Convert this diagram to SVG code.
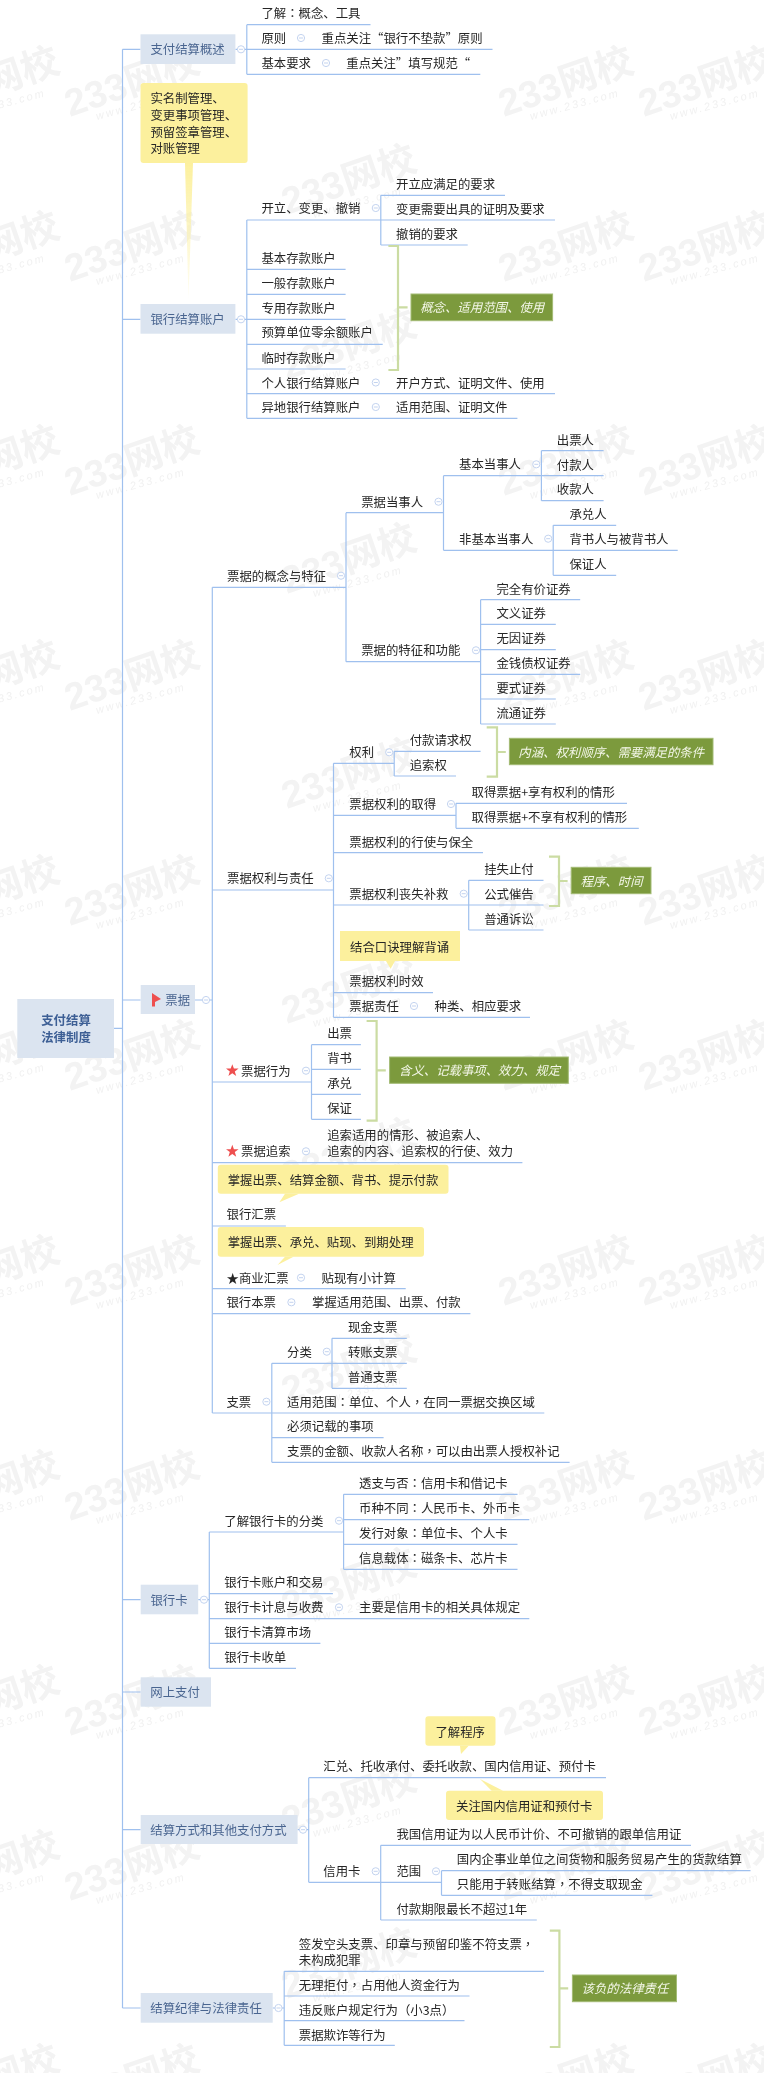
<svg xmlns="http://www.w3.org/2000/svg" xmlns:xlink="http://www.w3.org/1999/xlink" width="764" height="2073" viewBox="0 0 764 2073">
<style>
text{font-family:"Noto Sans CJK SC","Noto Sans",sans-serif;font-size:12.4px;fill:#262626;dominant-baseline:central}
.p{font-family:"Noto Sans CJK TC",sans-serif}
.b{fill:#4a6590}
.r{fill:#3d5f95;font-weight:700}
.box{fill:#dbe4f0}
.y{fill:#fcf09d}
.g{fill:#7b9a3d;stroke:#a3bb74;stroke-width:1}
.gt{fill:#f4f7e8;font-style:italic}
.c{fill:none;stroke:#9fc0ee;stroke-width:1.2}
.br{fill:none;stroke:#cbdca3;stroke-width:2.2}
.ic{fill:#fff;stroke:#c3d3ef;stroke-width:1}
.w1{font-family:"Liberation Sans",sans-serif;font-size:38px;font-weight:700;fill:#f3f3f3}
.w2{font-family:"Noto Sans CJK SC",sans-serif;font-size:38px;font-weight:700;fill:#f3f3f3}
.w3{font-family:"Liberation Sans",sans-serif;font-size:11px;font-style:italic;fill:#f1f1f1;letter-spacing:2.2px}
</style>
<defs>
<filter id="soft" x="0" y="0" width="100%" height="100%"><feGaussianBlur stdDeviation="0.35"/></filter>
<linearGradient id="fade" gradientUnits="userSpaceOnUse" x1="0" y1="163" x2="0" y2="300"><stop offset="0" stop-color="#fcf09d"/><stop offset="1" stop-color="#fcf09d" stop-opacity="0.1"/></linearGradient>
<g id="wm"><text class="w1" x="2" y="61" transform="rotate(-19 2 61)" style="dominant-baseline:auto"><tspan class="w1">233</tspan><tspan class="w2">网校</tspan></text><text class="w3" x="29" y="64" transform="rotate(-15 29 64)" style="dominant-baseline:auto">www.233.com</text></g>
<g id="ci"><circle class="ic" r="3.6"/><path d="M-2 0H2" stroke="#c3d3ef" stroke-width="1"/></g>
<path id="star" fill="#ee4f4f" d="M0-6.5 1.6-2.1H6.3L2.5.8 3.9 5.4 0 2.6-3.9 5.4-2.5.8-6.3-2.1H-1.6Z"/>
</defs>
<rect width="764" height="2073" fill="#fff"/>
<g id="diagram" filter="url(#soft)">
<g id="watermarks">
<use href="#wm" x="-72" y="56"/><use href="#wm" x="68" y="56"/><use href="#wm" x="502" y="56"/><use href="#wm" x="642" y="56"/>
<use href="#wm" x="-72" y="221"/><use href="#wm" x="68" y="221"/><use href="#wm" x="502" y="221"/><use href="#wm" x="642" y="221"/>
<use href="#wm" x="-72" y="435"/><use href="#wm" x="68" y="435"/><use href="#wm" x="502" y="435"/><use href="#wm" x="642" y="435"/>
<use href="#wm" x="-72" y="650"/><use href="#wm" x="68" y="650"/><use href="#wm" x="502" y="650"/><use href="#wm" x="642" y="650"/>
<use href="#wm" x="-72" y="865"/><use href="#wm" x="68" y="865"/><use href="#wm" x="502" y="865"/><use href="#wm" x="642" y="865"/>
<use href="#wm" x="-72" y="1030"/><use href="#wm" x="68" y="1030"/><use href="#wm" x="502" y="1030"/><use href="#wm" x="642" y="1030"/>
<use href="#wm" x="-72" y="1245"/><use href="#wm" x="68" y="1245"/><use href="#wm" x="502" y="1245"/><use href="#wm" x="642" y="1245"/>
<use href="#wm" x="-72" y="1460"/><use href="#wm" x="68" y="1460"/><use href="#wm" x="502" y="1460"/><use href="#wm" x="642" y="1460"/>
<use href="#wm" x="-72" y="1675"/><use href="#wm" x="68" y="1675"/><use href="#wm" x="502" y="1675"/><use href="#wm" x="642" y="1675"/>
<use href="#wm" x="-72" y="1840"/><use href="#wm" x="68" y="1840"/><use href="#wm" x="502" y="1840"/><use href="#wm" x="642" y="1840"/>
<use href="#wm" x="-72" y="2054"/><use href="#wm" x="68" y="2054"/><use href="#wm" x="502" y="2054"/><use href="#wm" x="642" y="2054"/>
<use href="#wm" x="285" y="154"/><use href="#wm" x="285" y="319"/><use href="#wm" x="285" y="533"/><use href="#wm" x="285" y="748"/><use href="#wm" x="285" y="963"/><use href="#wm" x="285" y="1128"/><use href="#wm" x="285" y="1343"/><use href="#wm" x="285" y="1558"/><use href="#wm" x="285" y="1773"/><use href="#wm" x="285" y="1938"/>
</g>
<g id="connectors">
<path class="c" d="M122.5 49.3V2008M114 1028.3H122.5M122.5 49.3H140.5M122.5 319.3H140.5M122.5 1000H140.7M122.5 1599.7H140.7M122.5 1692H140.7M122.5 1829.7H140.7M122.5 2008H140.7"/>
<path class="c" d="M235.4 49.3H246.8M246.8 24.7V74.3M246.8 24.7H370.5M246.8 49.3H492.5M246.8 74.3H480.3"/>
<path class="c" d="M235.4 319.3H246.8M246.8 220V418.3M246.8 220H380.8M380.8 195.3V245M380.8 195.3H505M380.8 220H555M380.8 245H467.7M246.8 269.3H345.6M246.8 294.3H345.6M246.8 319.3H345.6M246.8 344.3H382.7M246.8 369H345.6M246.8 393.7H555M246.8 418.3H517.4"/>
<path class="c" d="M195 1000H212.3M212.3 587.3V1413M212.3 587.3H346M346 512.7V661.7M346 512.7H443.5M443.5 475.7V550.3M443.5 475.7H541.4M541.4 450.7V500.7M541.4 450.7H603.6M541.4 475.7H603.6M541.4 500.7H603.6M443.5 550.3H553.2M553.2 525.3V575.3M553.2 525.3H616.2M553.2 550.3H677.7M553.2 575.3H616.2M346 661.7H480.6M480.6 599.7V724M480.6 599.7H580.2M480.6 624.3H555.8M480.6 649.7H555.8M480.6 674.3H580.2M480.6 699H555.8M480.6 724H555.8"/>
<path class="c" d="M212.3 890H333.5M333.5 763.3V1017.3M333.5 763.3H394.2M394.2 751.3V776M394.2 751.3H480.6M394.2 776H456M333.5 815.3H456M456 803.3V828.3M456 803.3H627M456 828.3H638.8M333.5 852.7H483M333.5 905H468.7M468.7 880.3V930M468.7 880.3H543.5M468.7 905H543.5M468.7 930H543.5M333.5 992.7H433M333.5 1017.3H530"/>
<path class="c" d="M212.3 1082H311.5M311.5 1044.7V1119.3M311.5 1044.7H360.9M311.5 1069.3H360.9M311.5 1094.3H360.9M311.5 1119.3H360.9M212.3 1162.7H522.4M212.3 1226H285.9M212.3 1288.7H405.7M212.3 1313.7H470.4M212.3 1413H271.8M271.8 1363.3V1462.3M271.8 1363.3H332M332 1338.3V1388.3M332 1338.3H406.8M332 1363.3H406.8M332 1388.3H406.8M271.8 1413H544.3M271.8 1437.7H383.6M271.8 1462.3H569.6"/>
<path class="c" d="M198.2 1599.7H209.3M209.3 1532V1668.3M209.3 1532H343.6M343.6 1494.3V1569.3M343.6 1494.3H517.5M343.6 1519.7H529.3M343.6 1544.3H517.5M343.6 1569.3H517.5M209.3 1593.7H332.9M209.3 1618.7H529.3M209.3 1643.3H320.4M209.3 1668.3H296"/>
<path class="c" d="M297.6 1829.7H308.7M308.7 1777.7V1882.3M308.7 1777.7H606M308.7 1882.3H441.5M380.7 1845.3V1920M380.7 1845.3H691M441.5 1870.7V1895.3M441.5 1870.7H750.5M441.5 1895.3H652.4M380.7 1920H536.8"/>
<path class="c" d="M272.7 2008H284.2M284.2 1971.3V2045.3M284.2 1971.3H544M284.2 1996H469.5M284.2 2020.7H464.5M284.2 2045.3H394.8"/>
<g id="collapse-icons">
<use href="#ci" x="241" y="49.3"/><use href="#ci" x="301" y="38"/><use href="#ci" x="326" y="63"/><use href="#ci" x="241" y="319.3"/><use href="#ci" x="375.8" y="208"/><use href="#ci" x="375.8" y="382.5"/><use href="#ci" x="375.8" y="407"/>
<use href="#ci" x="206" y="1000"/><use href="#ci" x="341" y="575.7"/><use href="#ci" x="438.5" y="501.7"/><use href="#ci" x="536.3" y="464.3"/><use href="#ci" x="548.2" y="538.7"/><use href="#ci" x="476" y="650.3"/>
<use href="#ci" x="328.8" y="878.3"/><use href="#ci" x="389.2" y="752.3"/><use href="#ci" x="451" y="804"/><use href="#ci" x="463.7" y="893.7"/><use href="#ci" x="414" y="1006"/><use href="#ci" x="306" y="1070.7"/><use href="#ci" x="306" y="1151.3"/><use href="#ci" x="301" y="1277.7"/><use href="#ci" x="291.4" y="1302.3"/><use href="#ci" x="266.4" y="1401.7"/><use href="#ci" x="326.8" y="1351.7"/>
<use href="#ci" x="204" y="1599.7"/><use href="#ci" x="339" y="1520.7"/><use href="#ci" x="339" y="1607.3"/><use href="#ci" x="303" y="1829.7"/><use href="#ci" x="375.7" y="1871.3"/><use href="#ci" x="436" y="1871.3"/><use href="#ci" x="278.5" y="2008"/>
</g>
<path class="br" d="M388.4 246H398V370H388.4M398 307.3H407.6"/>
<path class="br" d="M486.7 727.3H497V776.7H486.7M497 752H505.8"/>
<path class="br" d="M549 856.7H559V906H549M559 881H567.6"/>
<path class="br" d="M366.6 1021H376.6V1120.7H366.6M376.6 1070.3H385.8"/>
<path class="br" d="M549.8 1930.7H559.4V2047H549.8M559.4 1988.3H568.2"/>
</g>
<g id="root"><rect class="box" x="17.3" y="999" width="96.7" height="59"/><text class="r" x="66" y="1020" text-anchor="middle">支付结算</text><text class="r" x="66" y="1036.7" text-anchor="middle">法律制度</text></g>
<g id="b1"><rect class="box" x="140.5" y="34.3" width="94.9" height="29.7"/><text class="b" x="150.4" y="49.3">支付结算概述</text></g>
<g id="b1-1"><text x="261.4" y="13.3">了解<tspan class="p">：</tspan>概念、工具</text></g>
<g id="b1-2"><text x="261.4" y="38">原则</text></g>
<g id="b1-2-1"><text x="321.5" y="38">重点关注“银行不垫款”原则</text></g>
<g id="b1-3"><text x="261.4" y="63">基本要求</text></g>
<g id="b1-3-1"><text x="346.3" y="63">重点关注”填写规范“</text></g>
<g id="note1"><rect class="y" x="140.5" y="83" width="107.1" height="80" rx="3"/><path fill="url(#fade)" d="M185 163H193L188.5 300Z"/><text x="150.4" y="98.3">实名制管理、</text><text x="150.4" y="115">变更事项管理、</text><text x="150.4" y="131.7">预留签章管理、</text><text x="150.4" y="148.3">对账管理</text></g>
<g id="b2"><rect class="box" x="140.5" y="304" width="94.9" height="29.7"/><text class="b" x="150.4" y="319">银行结算账户</text></g>
<g id="b2-1"><text x="261.4" y="208">开立、变更、撤销</text></g>
<g id="b2-1-1"><text x="396" y="183.7">开立应满足的要求</text></g>
<g id="b2-1-2"><text x="396" y="208.7">变更需要出具的证明及要求</text></g>
<g id="b2-1-3"><text x="396" y="233.7">撤销的要求</text></g>
<g id="b2-2"><text x="261.4" y="258">基本存款账户</text></g>
<g id="b2-3"><text x="261.4" y="283">一般存款账户</text></g>
<g id="b2-4"><text x="261.4" y="307.5">专用存款账户</text></g>
<g id="b2-5"><text x="261.4" y="332">预算单位零余额账户</text></g>
<g id="b2-6"><text x="261.4" y="357.5">临时存款账户</text></g>
<g id="b2-7"><text x="261.4" y="382.5">个人银行结算账户</text></g>
<g id="b2-7-1"><text x="396" y="382.5">开户方式、证明文件、使用</text></g>
<g id="b2-8"><text x="261.4" y="407">异地银行结算账户</text></g>
<g id="b2-8-1"><text x="396" y="407">适用范围、证明文件</text></g>
<g id="sum1"><rect class="g" x="411" y="294" width="141.6" height="26.7"/><text class="gt" x="420.2" y="307.3">概念、适用范围、使用</text></g>
<g id="b3"><rect class="box" x="140.7" y="985" width="54.3" height="29"/><path fill="#ee4f4f" d="M152 993 161 999 155 1002V1006.5H152Z"/><text class="b" x="165.3" y="1000">票据</text></g>
<g id="b3-1"><text x="227" y="575.7">票据的概念与特征</text></g>
<g id="b3-1-1"><text x="361.2" y="501.7">票据当事人</text></g>
<g id="b3-1-1-1"><text x="459" y="464.3">基本当事人</text></g>
<g id="a1"><text x="556.8" y="440">出票人</text></g>
<g id="a2"><text x="556.8" y="464.7">付款人</text></g>
<g id="a3"><text x="556.8" y="489.3">收款人</text></g>
<g id="b3-1-1-2"><text x="459" y="538.7">非基本当事人</text></g>
<g id="a4"><text x="569.4" y="514">承兑人</text></g>
<g id="a5"><text x="569.4" y="538.7">背书人与被背书人</text></g>
<g id="a6"><text x="569.4" y="563.7">保证人</text></g>
<g id="b3-1-2"><text x="361.2" y="650.3">票据的特征和功能</text></g>
<g id="f1"><text x="496.4" y="588.7">完全有价证券</text></g>
<g id="f2"><text x="496.4" y="613.3">文义证券</text></g>
<g id="f3"><text x="496.4" y="638">无因证券</text></g>
<g id="f4"><text x="496.4" y="663">金钱债权证券</text></g>
<g id="f5"><text x="496.4" y="688">要式证券</text></g>
<g id="f6"><text x="496.4" y="712.7">流通证券</text></g>
<g id="b3-2"><text x="227" y="878.3">票据权利与责任</text></g>
<g id="r1"><text x="349.3" y="752.3">权利</text></g>
<g id="r1-1"><text x="409.7" y="740">付款请求权</text></g>
<g id="r1-2"><text x="409.7" y="764.7">追索权</text></g>
<g id="sum2"><rect class="g" x="509.4" y="738.3" width="203.6" height="26.4"/><text class="gt" x="518.3" y="751.5">内涵、权利顺序、需要满足的条件</text></g>
<g id="r2"><text x="349.3" y="804">票据权利的取得</text></g>
<g id="r2-1"><text x="471.6" y="791.7">取得票据+享有权利的情形</text></g>
<g id="r2-2"><text x="471.6" y="816.7">取得票据+不享有权利的情形</text></g>
<g id="r3"><text x="349.3" y="841.7">票据权利的行使与保全</text></g>
<g id="r4"><text x="349.3" y="893.7">票据权利丧失补救</text></g>
<g id="r4-1"><text x="484.2" y="868.7">挂失止付</text></g>
<g id="r4-2"><text x="484.2" y="893.7">公式催告</text></g>
<g id="r4-3"><text x="484.2" y="918.7">普通诉讼</text></g>
<g id="sum3"><rect class="g" x="571.2" y="867.3" width="79.8" height="26.4"/><text class="gt" x="580.6" y="880.5">程序、时间</text></g>
<g id="note2"><rect class="y" x="340" y="931" width="120" height="30"/><path class="y" d="M386 961H395L390.6 968.7Z"/><text x="350" y="946.7">结合口诀理解背诵</text></g>
<g id="r5"><text x="349.3" y="981.3">票据权利时效</text></g>
<g id="r6"><text x="349.3" y="1006">票据责任</text></g>
<g id="r6-1"><text x="434.5" y="1006">种类、相应要求</text></g>
<g id="b3-3"><use href="#star" x="232.3" y="1070.7"/><text x="241" y="1070.7">票据行为</text></g>
<g id="v1"><text x="327.2" y="1033.3">出票</text></g>
<g id="v2"><text x="327.2" y="1058.3">背书</text></g>
<g id="v3"><text x="327.2" y="1083">承兑</text></g>
<g id="v4"><text x="327.2" y="1107.7">保证</text></g>
<g id="sum4"><rect class="g" x="389.6" y="1057" width="178.7" height="26.3"/><text class="gt" x="399" y="1070.2">含义、记载事项、效力、规定</text></g>
<g id="b3-4"><use href="#star" x="232.3" y="1151.3"/><text x="241" y="1151.3">票据追索</text></g>
<g id="b3-4-1"><text x="327.2" y="1135">追索适用的情形、被追索人、</text><text x="327.2" y="1151.3">追索的内容、追索权的行使、效力</text></g>
<g id="note3"><rect class="y" x="217.8" y="1164.7" width="230.7" height="29" rx="3"/><path class="y" d="M285 1193.7H299L279.4 1202.3Z"/><text x="227.7" y="1179.7">掌握出票、结算金额、背书、提示付款</text></g>
<g id="b3-5"><text x="226.6" y="1214.3">银行汇票</text></g>
<g id="note4"><rect class="y" x="217.8" y="1227" width="206.2" height="29.7" rx="3"/><path class="y" d="M285 1256.7H293.5L277.5 1265Z"/><text x="227.7" y="1242.3">掌握出票、承兑、贴现、到期处理</text></g>
<g id="b3-6"><text x="226.6" y="1277.7">★商业汇票</text></g>
<g id="b3-6-1"><text x="321.5" y="1277.7">贴现有小计算</text></g>
<g id="b3-7"><text x="226.4" y="1302.3">银行本票</text></g>
<g id="b3-7-1"><text x="312" y="1302.3">掌握适用范围、出票、付款</text></g>
<g id="b3-8"><text x="226.4" y="1401.7">支票</text></g>
<g id="c1"><text x="287" y="1351.7">分类</text></g>
<g id="c1-1"><text x="347.9" y="1326.7">现金支票</text></g>
<g id="c1-2"><text x="347.9" y="1351.7">转账支票</text></g>
<g id="c1-3"><text x="347.9" y="1376.7">普通支票</text></g>
<g id="c2"><text x="287" y="1401.7">适用范围<tspan class="p">：</tspan>单位、个人<tspan class="p">，</tspan>在同一票据交换区域</text></g>
<g id="c3"><text x="287" y="1426">必须记载的事项</text></g>
<g id="c4"><text x="287" y="1451">支票的金额、收款人名称<tspan class="p">，</tspan>可以由出票人授权补记</text></g>
<g id="b4"><rect class="box" x="140.7" y="1584.7" width="57.5" height="29.6"/><text class="b" x="150.4" y="1599.7">银行卡</text></g>
<g id="k1"><text x="224.3" y="1520.7">了解银行卡的分类</text></g>
<g id="k1-1"><text x="359" y="1483.3">透支与否<tspan class="p">：</tspan>信用卡和借记卡</text></g>
<g id="k1-2"><text x="359" y="1508.3">币种不同<tspan class="p">：</tspan>人民币卡、外币卡</text></g>
<g id="k1-3"><text x="359" y="1533">发行对象<tspan class="p">：</tspan>单位卡、个人卡</text></g>
<g id="k1-4"><text x="359" y="1558">信息载体<tspan class="p">：</tspan>磁条卡、芯片卡</text></g>
<g id="k2"><text x="224.3" y="1582.3">银行卡账户和交易</text></g>
<g id="k3"><text x="224.3" y="1607.3">银行卡计息与收费</text></g>
<g id="k3-1"><text x="359" y="1607.3">主要是信用卡的相关具体规定</text></g>
<g id="k4"><text x="224.3" y="1632.3">银行卡清算市场</text></g>
<g id="k5"><text x="224.3" y="1657">银行卡收单</text></g>
<g id="b5"><rect class="box" x="140.7" y="1677.3" width="70.3" height="29.4"/><text class="b" x="150.3" y="1692">网上支付</text></g>
<g id="b6"><rect class="box" x="140.7" y="1815" width="156.9" height="29"/><text class="b" x="150.3" y="1829.7">结算方式和其他支付方式</text></g>
<g id="note5"><rect class="y" x="425.4" y="1716.3" width="70.1" height="29.4" rx="3"/><path class="y" d="M460 1745.7H468.7L461 1754Z"/><text x="435.4" y="1731.7">了解程序</text></g>
<g id="s1"><text x="323.3" y="1766.3">汇兑、托收承付、委托收款、国内信用证、预付卡</text></g>
<g id="note6"><rect class="y" x="446" y="1790.7" width="157" height="29.3" rx="3"/><path class="y" d="M491.6 1790.7H503L480 1779Z"/><text x="456" y="1805.7">关注国内信用证和预付卡</text></g>
<g id="s2"><text x="323.3" y="1871.3">信用卡</text></g>
<g id="s2-1"><text x="396.4" y="1834">我国信用证为以人民币计价、不可撤销的跟单信用证</text></g>
<g id="s2-2"><text x="396.4" y="1871.3">范围</text></g>
<g id="s2-2-1"><text x="456.8" y="1859">国内企事业单位之间货物和服务贸易产生的货款结算</text></g>
<g id="s2-2-2"><text x="456.8" y="1884">只能用于转账结算<tspan class="p">，</tspan>不得支取现金</text></g>
<g id="s2-3"><text x="396.4" y="1908.7">付款期限最长不超过1年</text></g>
<g id="b7"><rect class="box" x="140.7" y="1993" width="132" height="29.7"/><text class="b" x="150.3" y="2007.7">结算纪律与法律责任</text></g>
<g id="d1"><text x="298.8" y="1943.7">签发空头支票、印章与预留印鉴不符支票<tspan class="p">，</tspan></text><text x="298.8" y="1960">未构成犯罪</text></g>
<g id="d2"><text x="298.8" y="1984.7">无理拒付<tspan class="p">，</tspan>占用他人资金行为</text></g>
<g id="d3"><text x="298.8" y="2010">违反账户规定行为<tspan class="p">（</tspan>小3点<tspan class="p">）</tspan></text></g>
<g id="d4"><text x="298.8" y="2034.7">票据欺诈等行为</text></g>
<g id="sum5"><rect class="g" x="572.4" y="1975" width="104.1" height="26.7"/><text class="gt" x="581.6" y="1988.3">该负的法律责任</text></g>
</g>
</svg>
